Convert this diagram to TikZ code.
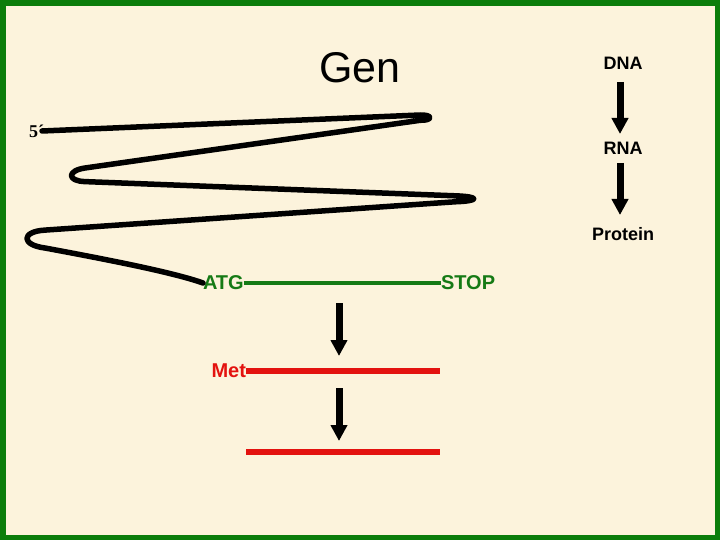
\documentclass[tikz,border=0pt]{standalone}
\usepackage{fontspec}
\setmainfont{Liberation Sans}
\newfontfamily\timesfont{Liberation Serif}
\usetikzlibrary{arrows.meta}
\definecolor{paper}{HTML}{FCF3DC}
\definecolor{frame}{HTML}{0B7D0B}
\definecolor{gtext}{HTML}{157A15}
\definecolor{rline}{HTML}{E3120F}
\begin{document}
\begin{tikzpicture}[x=1pt,y=-1pt,
  lbl/.style={inner sep=0pt, outer sep=0pt},
  flowlbl/.style={lbl, font=\fontsize{18}{21}\selectfont\bfseries},
  codelbl/.style={lbl, font=\fontsize{20}{24}\selectfont\bfseries},
  bigarrow/.style={line width=7pt, -{Triangle[width=16pt,length=16pt]}},
  geneline/.style={line width=5.5pt, line cap=round, line join=round},
  greenbar/.style={draw=gtext, line width=4.5pt},
  redbar/.style={draw=rline, line width=5.5pt}]
\fill[frame] (0,0) rectangle (720,540);
\fill[paper] (6,6) rectangle (715,535);
\useasboundingbox (0,0) rectangle (720,540);

% title
\node[lbl, font=\fontsize{43}{50}\selectfont] (gen) at (360,68) {Gen};

% DNA -> RNA -> Protein
\node[flowlbl] (dna) at (623,63) {DNA};
\node[flowlbl] (rna) at (623,148) {RNA};
\node[flowlbl] (prot) at (623,234) {Protein};
\coordinate (a1s) at (620,82);
\coordinate (a1e) at (620,134);
\coordinate (a2s) at (620,163);
\coordinate (a2e) at (620,215);
\draw[bigarrow] (a1s) -- (a1e);
\draw[bigarrow] (a2s) -- (a2e);

% gene
\node[lbl, font=\timesfont\bfseries\fontsize{18}{21}\selectfont, anchor=east] (five) at (44,131) {5´};
\node[codelbl, text=gtext, anchor=west] (atg) at (203,283) {ATG};
\node[codelbl, text=gtext, anchor=west] (stop) at (441,283) {STOP};
\node[codelbl, text=rline, anchor=east] (met) at (246,371) {Met};

\draw[geneline] ([xshift=-2pt]five.east) -- (420,115)
  .. controls (433,114.6) and (433,120.6) .. (420,120.3)
  -- (85,168)
  .. controls (67,170.6) and (67,181) .. (85,181.6)
  -- (455,195.8)
  .. controls (480,196.6) and (480,201) .. (455,201.8)
  -- (45,230.1)
  .. controls (21,231.5) and (21,245) .. (45,248)
  .. controls (115,261) and (175,273) .. (atg.west);

\draw[greenbar] (atg.east) -- (stop.west);

\coordinate (b1s) at (339,303);
\coordinate (b1e) at (339,356);
\draw[bigarrow] (b1s) -- (b1e);

\coordinate (m2) at (440,371);
\draw[redbar] (met.east) -- (m2);

\coordinate (b2s) at (339,388);
\coordinate (b2e) at (339,441);
\draw[bigarrow] (b2s) -- (b2e);

\coordinate (p1) at (246,452);
\coordinate (p2) at (440,452);
\draw[redbar] (p1) -- (p2);
\end{tikzpicture}
\end{document}
